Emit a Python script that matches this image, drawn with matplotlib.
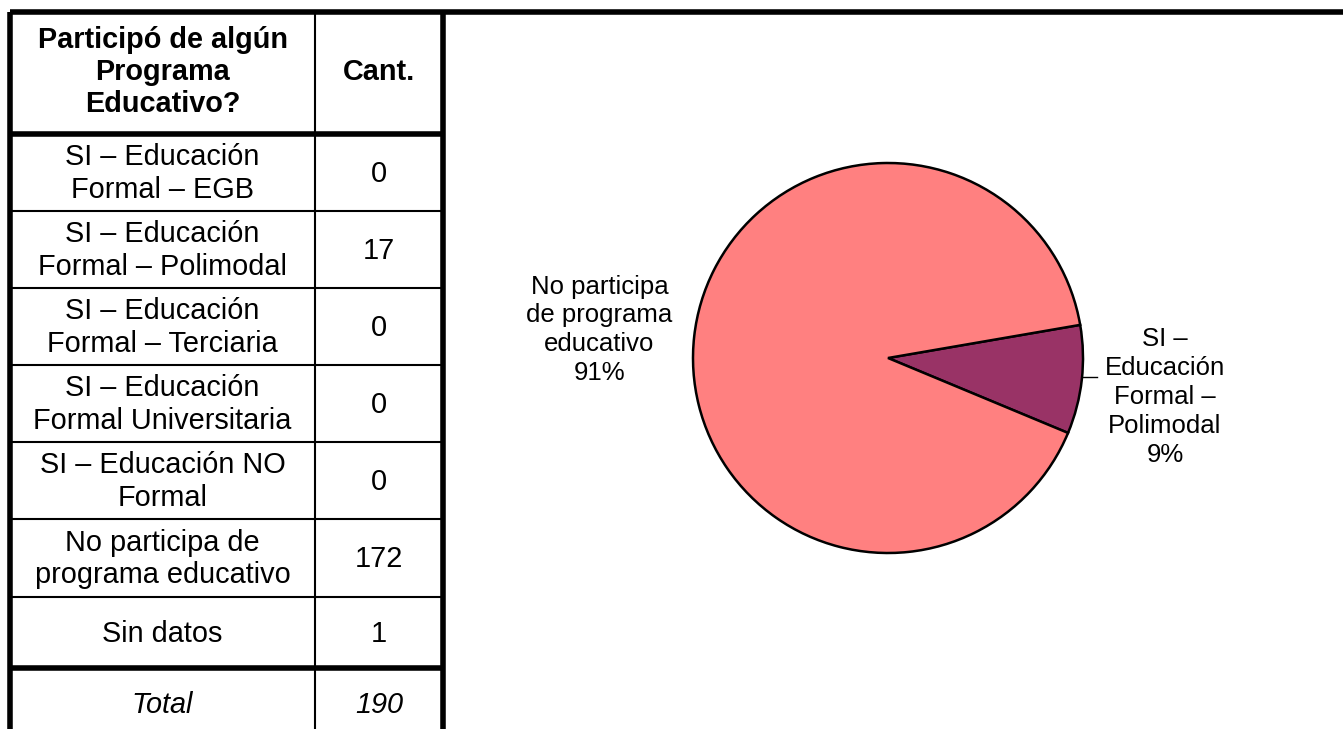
import matplotlib.pyplot as plt
import numpy as np

plt.rcParams['font.family'] = ['Liberation Sans', 'DejaVu Sans']

header = ["Participó de algún\nPrograma\nEducativo?", "Cant."]
categories = ["SI – Educación\nFormal – EGB",
              "SI – Educación\nFormal – Polimodal",
              "SI – Educación\nFormal – Terciaria",
              "SI – Educación\nFormal Universitaria",
              "SI – Educación NO\nFormal",
              "No participa de\nprograma educativo",
              "Sin datos"]
counts = [0, 17, 0, 0, 0, 172, 1]
total_label = "Total"
total = 190

pie_labels = ["SI –\nEducación\nFormal –\nPolimodal", "No participa\nde programa\neducativo"]
pie_values = [17, 172]
pie_colors = ["#993366", "#FF8080"]

W, H = 1343, 729
fig = plt.figure(figsize=(W / 100, H / 100), dpi=100)

# table drawn in pixel coordinates
tab = fig.add_axes([0, 0, 1, 1])
tab.set_xlim(0, W)
tab.set_ylim(H, 0)
tab.axis('off')

x0, x1, x2 = 10, 315, 443
row_tops = [12, 134, 211, 288, 365, 442, 519, 597, 668, 760]

# outer thick lines
tab.plot([x0, W], [12, 12], color='black', lw=4, solid_capstyle='butt')
tab.plot([x0, x0], [12, H], color='black', lw=4, solid_capstyle='butt')
tab.plot([x2, x2], [12, H], color='black', lw=4, solid_capstyle='butt')
tab.plot([x1, x1], [12, H], color='black', lw=1.5)
for i, y in enumerate(row_tops[1:-1]):
    lw = 4 if i in (0, 7) else 1.5
    tab.plot([x0, x2], [y, y], color='black', lw=lw, solid_capstyle='butt')

fs = 20.8
ls = 1.2
tab.text((x0 + x1) / 2, (row_tops[0] + row_tops[1]) / 2 - 1, header[0], ha='center', va='center',
         fontsize=fs, fontweight='bold', linespacing=ls)
tab.text((x1 + x2) / 2, (row_tops[0] + row_tops[1]) / 2 - 1, header[1], ha='center', va='center',
         fontsize=fs, fontweight='bold')
for i, (c, n) in enumerate(zip(categories, counts)):
    yc = (row_tops[i + 1] + row_tops[i + 2]) / 2 + 1
    tab.text((x0 + x1) / 2, yc, c, ha='center', va='center', fontsize=fs, linespacing=ls)
    tab.text((x1 + x2) / 2, yc, str(n), ha='center', va='center', fontsize=fs)
yt = 705
tab.text((x0 + x1) / 2, yt, total_label, ha='center', va='center', fontsize=fs, style='italic')
tab.text((x1 + x2) / 2, yt, str(total), ha='center', va='center', fontsize=fs, style='italic')

# pie
cx, cy, r = 888, 358, 195
ax = fig.add_axes([(cx - r) / W, (H - cy - r) / H, 2 * r / W, 2 * r / H])
ax.pie(pie_values, colors=pie_colors, startangle=-22.6, counterclock=True,
       wedgeprops=dict(edgecolor='black', linewidth=1.8))
ax.set_xlim(-1, 1)
ax.set_ylim(-1, 1)
ax.axis('off')

pct = [round(100 * v / sum(pie_values)) for v in pie_values]
ax.text(1.42, -0.2, pie_labels[0] + "\n%d%%" % pct[0], ha='center', va='center',
        fontsize=18.5, linespacing=1.25, clip_on=False)
ax.text(-1.48, 0.145, pie_labels[1] + "\n%d%%" % pct[1], ha='center', va='center',
        fontsize=18.5, linespacing=1.25, clip_on=False)
ax.plot([1.0, 1.07], [-0.098, -0.098], color='black', lw=1, clip_on=False)

fig.savefig("out.png", dpi=100)
